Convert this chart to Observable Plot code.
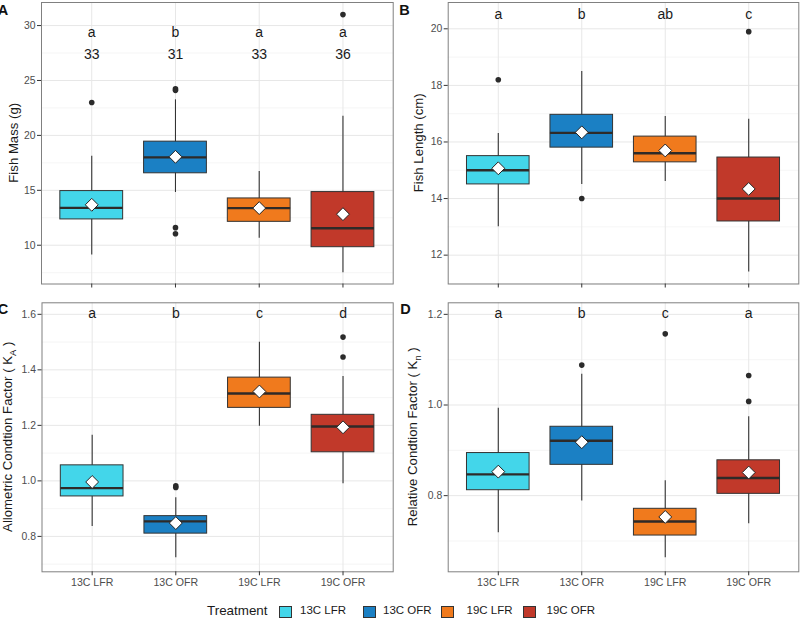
<!DOCTYPE html>
<html>
<head>
<meta charset="utf-8">
<script src="https://cdn.jsdelivr.net/npm/d3@7"></script>
<script src="https://cdn.jsdelivr.net/npm/@observablehq/plot@0.6"></script>
<style>
  body { margin: 0; background: #fff; font-family: "Liberation Sans", Arial, sans-serif; }
  #fig { position: relative; width: 800px; height: 618px; overflow: hidden; background: #fff; }
  #fig svg { position: absolute; overflow: visible; }
  .leg { position: absolute; white-space: nowrap; line-height: 1; color: #1a1a1a; }
  .sw { position: absolute; width: 11px; height: 10px; border: 1px solid #333; }
</style>
</head>
<body>
<div id="fig"></div>
<script>
// Treatment groups and their fill colours
const treatments = ["13C LFR", "13C OFR", "19C LFR", "19C OFR"];
const treatmentColors = ["#43d6ea", "#1b80c4", "#f07a1d", "#c1392a"];

// A: fish mass (g) – box summaries per treatment
const massQ1 = [12.35, 16.55, 12.13, 9.82];
const massMedian = [13.4, 18.0, 13.38, 11.55];
const massQ3 = [14.93, 19.43, 14.26, 14.84];
const massLow = [9.1, 14.8, 10.64, 7.5];
const massHigh = [18.1, 23.24, 16.72, 21.74];
const massMean = [13.68, 18.05, 13.38, 12.83];
const massOutliers = [[23.0], [24.1, 24.25, 11.6, 11.05], [], [31.0]];
const massLetters = ["a", "b", "a", "a"];
const massN = [33, 31, 33, 36];

// B: fish length (cm)
const lengthQ1 = [14.5, 15.8, 15.28, 13.19];
const lengthMedian = [15.0, 16.32, 15.6, 14.0];
const lengthQ3 = [15.5, 16.96, 16.19, 15.45];
const lengthLow = [13.0, 14.5, 14.6, 11.4];
const lengthHigh = [16.3, 18.49, 16.9, 16.8];
const lengthMean = [15.07, 16.34, 15.7, 14.34];
const lengthOutliers = [[18.2], [14.0], [], [19.9]];
const lengthLetters = ["a", "b", "ab", "c"];

// C: allometric condition factor (K_A)
const kaQ1 = [0.944, 0.81, 1.263, 1.103];
const kaMedian = [0.974, 0.854, 1.315, 1.196];
const kaQ3 = [1.056, 0.873, 1.372, 1.238];
const kaLow = [0.836, 0.723, 1.197, 0.99];
const kaHigh = [1.164, 0.939, 1.499, 1.376];
const kaMean = [0.996, 0.848, 1.322, 1.193];
const kaOutliers = [[], [0.982, 0.976], [], [1.518, 1.446]];
const kaLetters = ["a", "b", "c", "d"];

// D: relative condition factor (K_n)
const knQ1 = [0.812, 0.868, 0.712, 0.804];
const knMedian = [0.847, 0.921, 0.743, 0.839];
const knQ3 = [0.894, 0.952, 0.771, 0.878];
const knLow = [0.718, 0.788, 0.663, 0.738];
const knHigh = [0.993, 1.068, 0.833, 0.974];
const knMean = [0.853, 0.918, 0.753, 0.851];
const knOutliers = [[], [1.088], [1.157], [1.065, 1.008]];
const knLetters = ["a", "b", "c", "a"];

const fig = document.getElementById("fig");
const FONT = "'Liberation Sans', Arial, sans-serif";
const HALF = 0.375; // half box width, in category units
const TITLE_SIZE = 13.2;

function panel(cfg) {
  const positions = treatments.map((_, i) => i + 1);
  const boxes = treatments.map((t, i) => ({
    t, x: i + 1,
    q1: cfg.q1[i], median: cfg.median[i], q3: cfg.q3[i],
    low: cfg.low[i], high: cfg.high[i], mean: cfg.mean[i],
    letter: cfg.letters[i], n: cfg.n ? cfg.n[i] : null
  }));
  const outs = cfg.outliers.flatMap((vals, i) => vals.map(v => ({x: i + 1, v})));
  const L = cfg.layout;

  const marks = [
    Plot.ruleY(cfg.yMinor, {stroke: "#f1f1f1", strokeWidth: 0.7}),
    Plot.ruleY(cfg.yTicks, {stroke: "#e7e7e7", strokeWidth: 1}),
    Plot.ruleX(positions, {stroke: "#e7e7e7", strokeWidth: 1}),
    Plot.ruleX(boxes, {x: "x", y1: "low", y2: "high", stroke: "#333", strokeWidth: 1.1}),
    Plot.rect(boxes, {x1: d => d.x - HALF, x2: d => d.x + HALF, y1: "q1", y2: "q3",
      fill: "t", stroke: "#333", strokeWidth: 1}),
    Plot.ruleY(boxes, {y: "median", x1: d => d.x - HALF, x2: d => d.x + HALF,
      stroke: "#2e2a28", strokeWidth: 2.4}),
    Plot.dot(outs, {x: "x", y: "v", r: 2.8, fill: "#2b2b2b", stroke: null}),
    Plot.dot(boxes, {x: "x", y: "mean", symbol: "diamond2", r: 5.8,
      fill: "white", stroke: "#222", strokeWidth: 1}),
    Plot.text(boxes, {x: "x", y: () => cfg.letterY, text: "letter", lineAnchor: "bottom",
      fontSize: 14, fill: "#1a1a1a"}),
    Plot.frame({stroke: "#808080", strokeWidth: 1}),
    Plot.axisY({ticks: cfg.yTicks, tickSize: 4, tickPadding: 2, label: null,
      tickFormat: cfg.yFormat,
      stroke: "#333", fill: "#4d4d4d", fontSize: 10.4}),
    Plot.axisX({ticks: positions, tickSize: 4, tickPadding: 3, label: null,
      tickFormat: cfg.xLabels ? (i => treatments[i - 1]) : (() => ""),
      stroke: "#333", fill: "#4d4d4d", fontSize: 10.6})
  ];
  if (cfg.n) {
    marks.push(Plot.text(boxes, {x: "x", y: () => cfg.countY, text: "n", lineAnchor: "bottom",
      fontSize: 14, fill: "#1a1a1a"}));
  }

  const svg = Plot.plot({
    width: L.width, height: L.height,
    marginTop: L.mt, marginRight: L.mr, marginBottom: L.mb, marginLeft: L.ml,
    style: {fontFamily: FONT, background: "transparent", overflow: "visible"},
    x: {type: "linear", domain: [0.4, 4.6]},
    y: {domain: cfg.yDomain},
    color: {domain: treatments, range: treatmentColors},
    marks
  });
  svg.style.left = L.left + "px";
  svg.style.top = L.top + "px";

  const s = d3.select(svg);
  // y-axis title (with optional subscript)
  const cy = (L.mt + L.height - L.mb) / 2;
  const title = s.append("text")
    .attr("transform", `translate(${cfg.titleX},${cy}) rotate(-90)`)
    .attr("text-anchor", "middle")
    .attr("font-family", FONT)
    .attr("font-size", TITLE_SIZE)
    .attr("fill", "#1a1a1a");
  title.append("tspan").text(cfg.title[0]);
  if (cfg.title.length > 1) {
    title.append("tspan").attr("font-size", 9.4).attr("dy", 3.5).text(cfg.title[1]);
    title.append("tspan").attr("dy", -3.5).text(cfg.title[2]);
  }
  // panel tag
  s.append("text")
    .attr("x", cfg.tagX).attr("y", cfg.tagY)
    .attr("font-family", FONT).attr("font-weight", "bold")
    .attr("font-size", 14.5).attr("fill", "#111")
    .text(cfg.tag);

  fig.appendChild(svg);
}

const oneDecimal = d3.format(".1f");

panel({
  q1: massQ1, median: massMedian, q3: massQ3, low: massLow, high: massHigh,
  mean: massMean, outliers: massOutliers, letters: massLetters, n: massN,
  yDomain: [6.47, 32.1], yTicks: [10, 15, 20, 25, 30], yMinor: [7.5, 12.5, 17.5, 22.5, 27.5],
  yFormat: d3.format("d"),
  letterY: 29.0, countY: 27.0, xLabels: false,
  title: ["Fish Mass (g)"], titleX: 17.8, tag: "A", tagX: 3, tagY: 14.5,
  layout: {left: 0, top: 0, width: 400, height: 290, mt: 2, mr: 7.3, mb: 6.5, ml: 41}
});

panel({
  q1: lengthQ1, median: lengthMedian, q3: lengthQ3, low: lengthLow, high: lengthHigh,
  mean: lengthMean, outliers: lengthOutliers, letters: lengthLetters,
  yDomain: [10.98, 20.93], yTicks: [12, 14, 16, 18, 20], yMinor: [11, 13, 15, 17, 19],
  yFormat: d3.format("d"),
  letterY: 20.33, xLabels: false,
  title: ["Fish Length (cm)"], titleX: 23, tag: "B", tagX: 4.5, tagY: 14.5,
  layout: {left: 400, top: 0, width: 400, height: 290, mt: 2, mr: 1.7, mb: 6.5, ml: 47.7}
});

panel({
  q1: kaQ1, median: kaMedian, q3: kaQ3, low: kaLow, high: kaHigh,
  mean: kaMean, outliers: kaOutliers, letters: kaLetters,
  yDomain: [0.6725, 1.6415], yTicks: [0.8, 1.0, 1.2, 1.4, 1.6], yMinor: [0.7, 0.9, 1.1, 1.3, 1.5],
  yFormat: oneDecimal,
  letterY: 1.586, xLabels: true,
  title: ["Allometric Condtion Factor ( K", "A", " )"], titleX: 12, tag: "C", tagX: 3, tagY: 24,
  layout: {left: 0, top: 290, width: 400, height: 310, mt: 12.3, mr: 7.3, mb: 28.7, ml: 41.5}
});

panel({
  q1: knQ1, median: knMedian, q3: knQ3, low: knLow, high: knHigh,
  mean: knMean, outliers: knOutliers, letters: knLetters,
  yDomain: [0.632, 1.2255], yTicks: [0.8, 1.0, 1.2], yMinor: [0.7, 0.9, 1.1],
  yFormat: oneDecimal,
  letterY: 1.191, xLabels: true,
  title: ["Relative Condtion Factor ( K", "n", " )"], titleX: 17, tag: "D", tagX: 5.5, tagY: 24,
  layout: {left: 400, top: 290, width: 400, height: 310, mt: 12.3, mr: 1.7, mb: 28.7, ml: 47.7}
});

// Treatment legend along the bottom
const legendTitle = document.createElement("div");
legendTitle.className = "leg";
legendTitle.style.cssText = "left:207px;top:604px;font-size:13.4px;";
legendTitle.textContent = "Treatment";
fig.appendChild(legendTitle);
const swatchX = [278.5, 363, 440.5, 522.5];
const labelX = [300, 383, 466.5, 546.5];
treatments.forEach((t, i) => {
  const sw = document.createElement("div");
  sw.className = "sw";
  sw.style.left = swatchX[i] + "px";
  sw.style.top = "605.5px";
  sw.style.background = treatmentColors[i];
  fig.appendChild(sw);
  const lab = document.createElement("div");
  lab.className = "leg";
  lab.style.cssText = `left:${labelX[i]}px;top:605px;font-size:11.5px;`;
  lab.textContent = t;
  fig.appendChild(lab);
});
</script>
</body>
</html>
